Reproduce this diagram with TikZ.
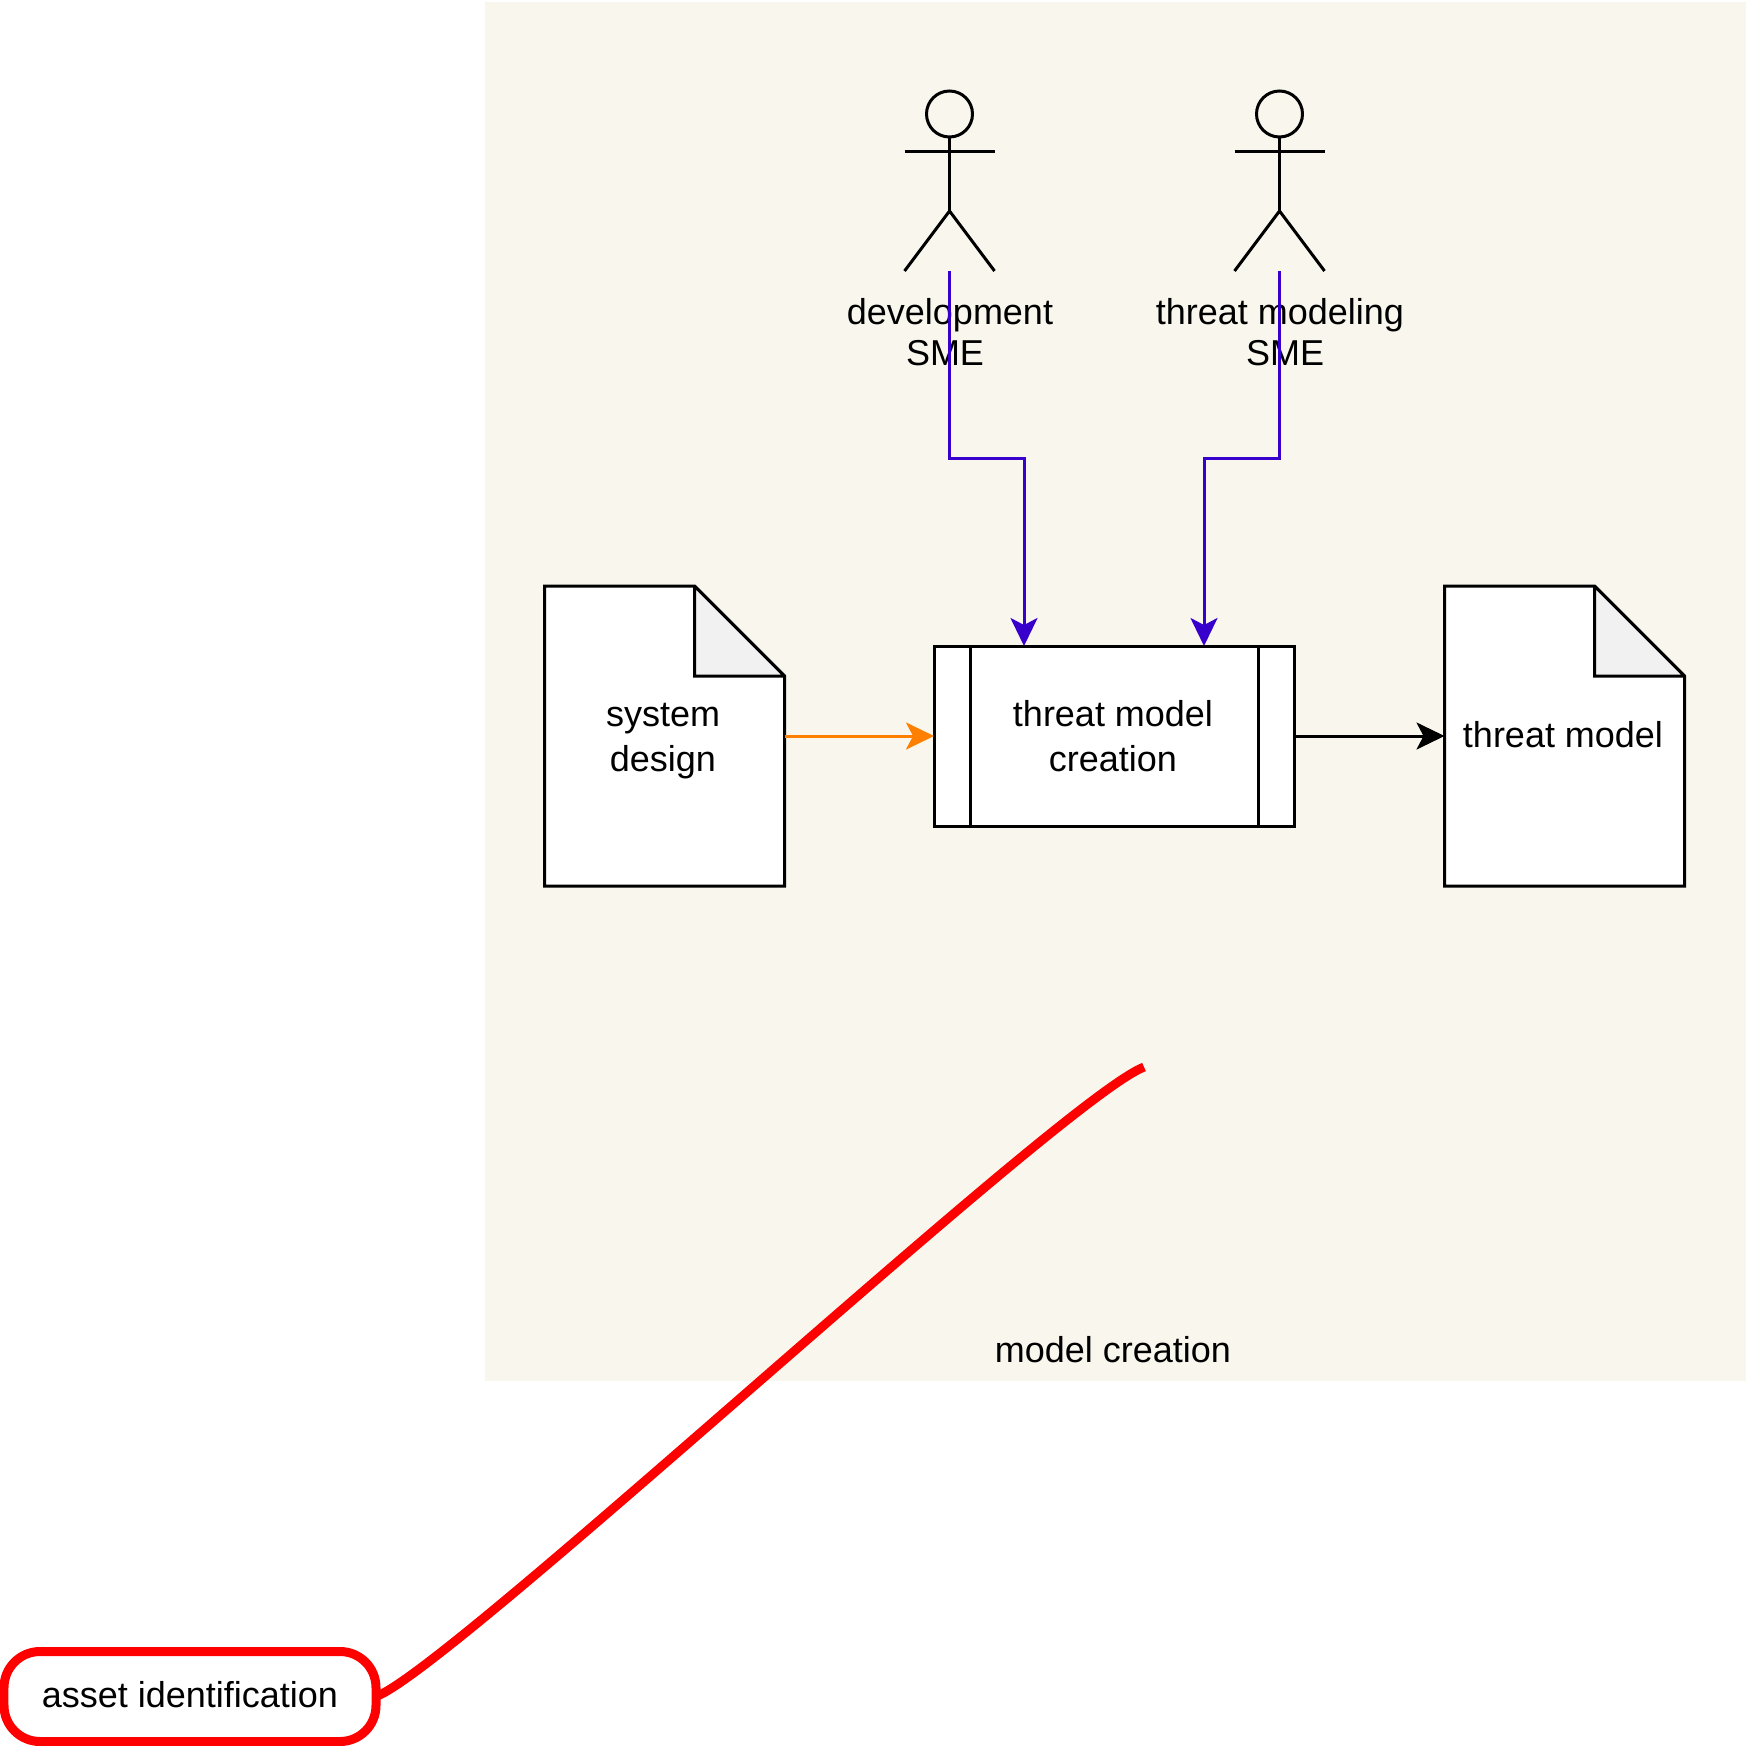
\documentclass[tikz,border=0pt]{standalone}
\usepackage{fontspec}
\setmainfont{Liberation Sans}
\usetikzlibrary{arrows.meta,calc}
\definecolor{panelfill}{HTML}{F9F7ED}
\definecolor{foldfill}{HTML}{F1F1F1}
\definecolor{smeblue}{HTML}{3700CC}
\definecolor{inorange}{HTML}{FF8000}
\tikzset{
  base/.style={inner sep=0pt,outer sep=0pt,align=center,font=\fontsize{10.24}{12.8}\selectfont},
  actorbox/.style={base,minimum width=0.9cm,minimum height=1.8cm},
  actortext/.style={base,font=\fontsize{10.24}{11.67}\selectfont},
  docbox/.style={base,minimum width=2.4cm,minimum height=3cm},
  procbox/.style={base,draw=black,fill=white,line width=0.03cm,minimum width=3.6cm,minimum height=1.8cm},
  alert/.style={base,draw=red,fill=white,line width=0.09cm,rounded corners=0.36cm,minimum width=3.72cm,minimum height=0.9cm,text depth=0.04cm},
  stroke/.style={line width=0.03cm,miter limit=2},
  flow/.style={line width=0.03cm,-{Stealth[length=0.28cm,width=0.27cm,inset=0.07cm]}},
}
\begin{document}
\begin{tikzpicture}
\useasboundingbox (0cm,0cm) rectangle (17.46cm,-17.46cm);
\fill[panelfill] (4.85cm,-0.02cm) rectangle (17.46cm,-13.81cm);
\node[base] (panellabel) at (11.13cm,-13.5cm) {model creation};
% actors
\node[actorbox] (devsme) at (9.495cm,-1.81cm) {};
\node[actorbox] (modsme) at (12.795cm,-1.81cm) {};
\foreach \who in {devsme,modsme} {
  \draw[stroke] ($(\who.north)+(0cm,-0.23cm)$) circle (0.23cm);
  \draw[stroke] ($(\who.north)+(0cm,-0.46cm)$) -- ($(\who.north)+(0cm,-1.2cm)$);
  \draw[stroke] ($(\who.north west)+(0cm,-0.6cm)$) -- ($(\who.north east)+(0cm,-0.6cm)$);
  \draw[stroke] (\who.south west) -- ($(\who.north)+(0cm,-1.2cm)$) -- (\who.south east);
}
\node[actortext] (devlabel) at (9.5cm,-3.325cm) {development\\SME\hspace*{0.1cm}};
\node[actortext] (modlabel) at (12.8cm,-3.325cm) {threat modeling\\\hspace*{0.1cm}SME};
% documents and process
\node[docbox] (sysdesign) at (6.645cm,-7.36cm) {};
\node[docbox] (threatmodel) at (15.645cm,-7.36cm) {};
\foreach \doc in {sysdesign,threatmodel} {
  \draw[stroke,fill=white] (\doc.north west) -- ($(\doc.north east)+(-0.9cm,0cm)$) -- ($(\doc.north east)+(0cm,-0.9cm)$) -- (\doc.south east) -- (\doc.south west) -- cycle;
  \draw[stroke,fill=foldfill] ($(\doc.north east)+(-0.9cm,0cm)$) -- ($(\doc.north east)+(-0.9cm,-0.9cm)$) -- ($(\doc.north east)+(0cm,-0.9cm)$) -- cycle;
}
\node[base] (sysdesigntext) at (6.63cm,-7.415cm) {system\\design};
\node[base] (threatmodeltext) at (15.63cm,-7.35cm) {threat model};
\node[procbox] (create) at (11.14cm,-7.36cm) {};
\draw[stroke] ($(create.north west)+(0.36cm,0cm)$) -- ($(create.south west)+(0.36cm,0cm)$);
\draw[stroke] ($(create.north east)+(-0.36cm,0cm)$) -- ($(create.south east)+(-0.36cm,0cm)$);
\node[base] (createtext) at (11.13cm,-7.36cm) {threat model\\creation};
% connectors
\draw[flow,smeblue] (devsme.south) -- ($(devsme.south)+(0cm,-1.87cm)$) -| ($(create.north)+(-0.9cm,0cm)$);
\draw[flow,smeblue] (modsme.south) -- ($(modsme.south)+(0cm,-1.87cm)$) -| ($(create.north)+(0.9cm,0cm)$);
\draw[flow,inorange] (sysdesign.east) -- (create.west);
\draw[flow,black] (create.east) -- (threatmodel.west);
% asset
\node[alert] (asset) at (1.9cm,-16.965cm) {asset identification};
\coordinate (curveend) at (11.44cm,-10.67cm);
\draw[red,line width=0.09cm] (asset.east) .. controls (4.5cm,-16.7cm) and (10.6cm,-11cm) .. (curveend);
\end{tikzpicture}
\end{document}
